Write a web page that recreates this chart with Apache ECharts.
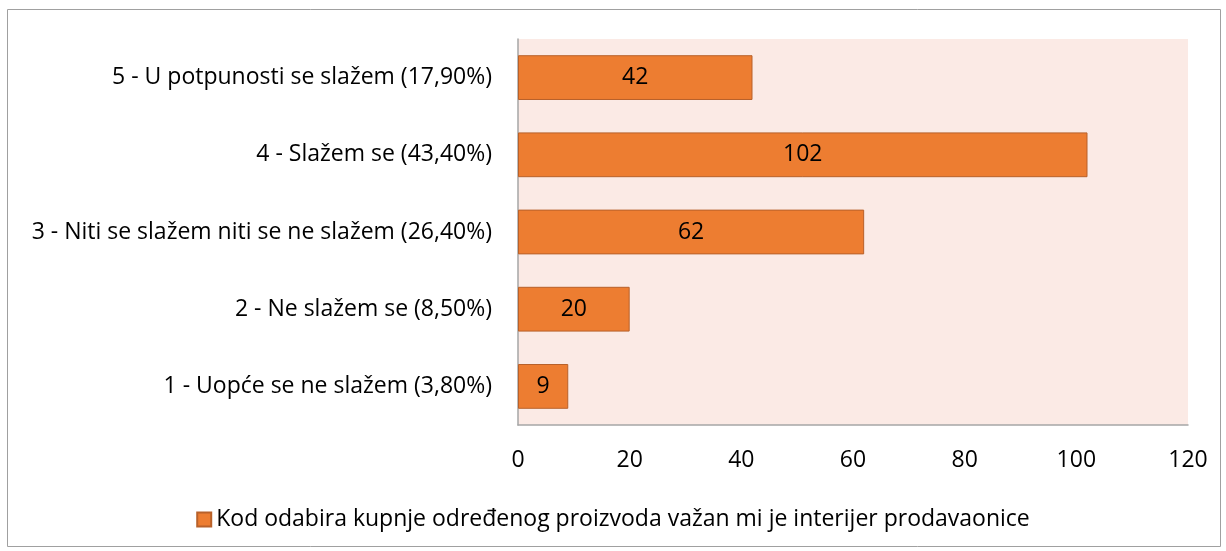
<!DOCTYPE html>
<html>
<head>
<meta charset="utf-8">
<script src="https://cdn.jsdelivr.net/npm/echarts@6/dist/echarts.min.js"></script>
<style>
  html, body { margin: 0; padding: 0; background: #fff; }
  #chart { width: 1226px; height: 551px; }
</style>
</head>
<body>
<div id="chart"></div>
<script>
var categories = [
  '1 - Uopće se ne slažem (3,80%)',
  '2 - Ne slažem se (8,50%)',
  '3 - Niti se slažem niti se ne slažem (26,40%)',
  '4 - Slažem se (43,40%)',
  '5 - U potpunosti se slažem (17,90%)'
];
var values = [9, 20, 62, 102, 42];
var seriesName = 'Kod odabira kupnje određenog proizvoda važan mi je interijer prodavaonice';

var font = '"Open Sans", sans-serif';
var fs = 23;
var chart = echarts.init(document.getElementById('chart'));
chart.setOption({
  animation: false,
  textStyle: { fontFamily: font },
  graphic: [{
    type: 'rect',
    shape: { x: 7.5, y: 9.5, width: 1213, height: 537 },
    style: { fill: 'none', stroke: '#a0a0a0', lineWidth: 1 },
    z: -10
  }],
  grid: {
    left: 518, right: 38, top: 39, bottom: 126,
    show: true, backgroundColor: '#fbeae5', borderWidth: 0
  },
  legend: {
    bottom: 15, left: 'center',
    itemWidth: 14, itemHeight: 14, itemGap: 6,
    icon: 'rect',
    textStyle: { fontSize: fs, color: '#000', fontFamily: font },
    data: [seriesName]
  },
  xAxis: {
    type: 'value', min: 0, max: 120, interval: 20,
    axisLine: { show: true, lineStyle: { color: '#a6a6a6', width: 1.5 } },
    axisTick: { show: false },
    splitLine: { show: false },
    axisLabel: { fontSize: fs, color: '#000', margin: 24, fontFamily: font }
  },
  yAxis: {
    type: 'category', data: categories,
    axisLine: { show: true, lineStyle: { color: '#a6a6a6', width: 1.5 } },
    axisTick: { show: false },
    axisLabel: { fontSize: fs, color: '#000', margin: 26, fontFamily: font }
  },
  series: [{
    name: seriesName,
    type: 'bar',
    data: values,
    barCategoryGap: '42%',
    itemStyle: { color: '#ed7d31', borderColor: '#b8612a', borderWidth: 1 },
    label: { show: true, position: 'inside', fontSize: fs, color: '#000', fontFamily: font }
  }]
});
</script>
</body>
</html>
